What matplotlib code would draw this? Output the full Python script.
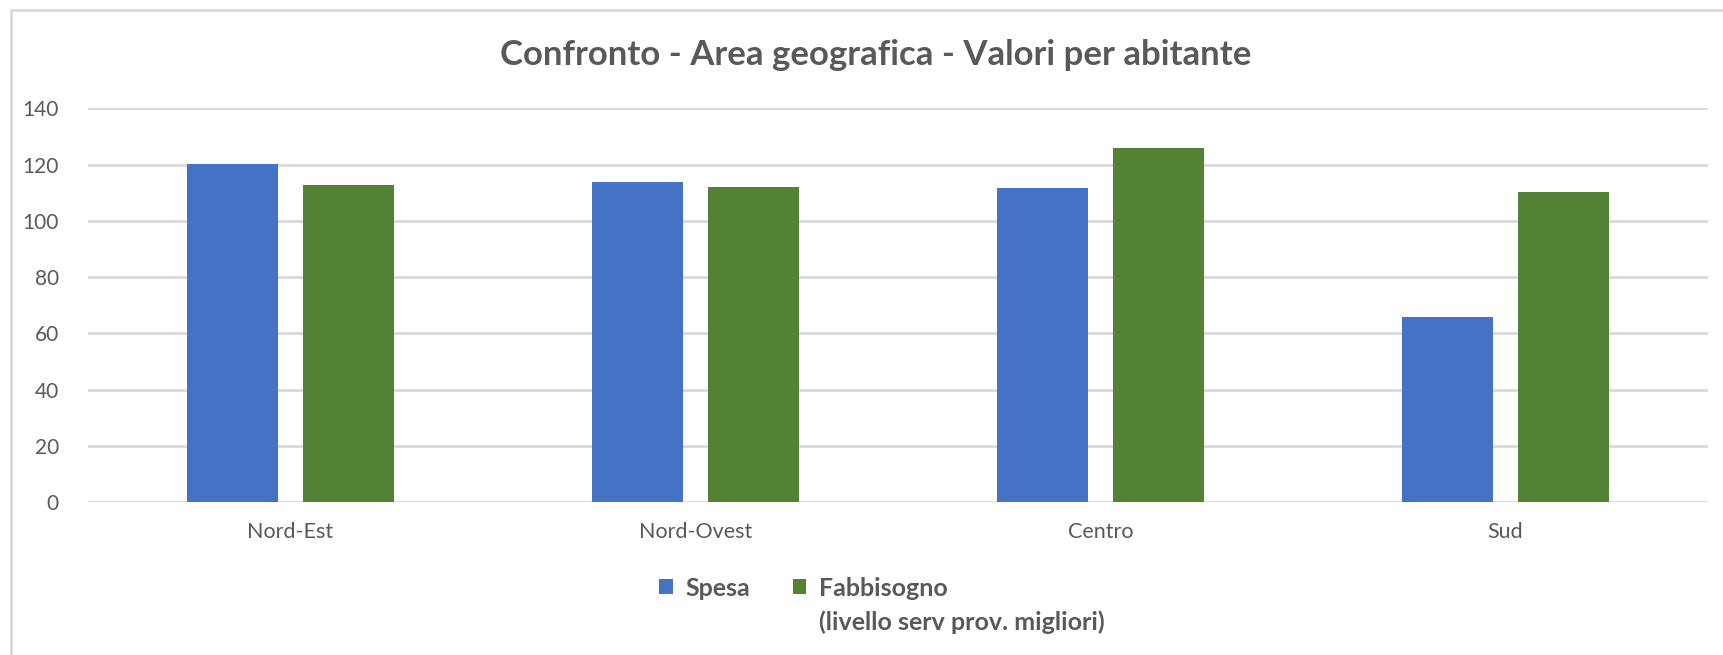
import matplotlib
matplotlib.use("Agg")
import matplotlib.pyplot as plt
from matplotlib.lines import Line2D
import numpy as np

categories = ["Nord-Est", "Nord-Ovest", "Centro", "Sud"]
spesa = [120.3, 113.9, 111.6, 66.0]
fabbisogno = [112.6, 112.2, 125.8, 110.3]
series_names = ["Spesa", "Fabbisogno"]
legend_note = "(livello serv prov. migliori)"
title = "Confronto - Area geografica - Valori per abitante"
yticks = [0, 20, 40, 60, 80, 100, 120, 140]

plt.rcParams['font.family'] = ['Lato', 'DejaVu Sans']
text_color = "#595959"
blue = "#4472C4"
green = "#548235"
grid_color = "#D9D9D9"

fig = plt.figure(figsize=(17.23, 6.55), dpi=100)
ax = fig.add_axes([88/1723, 1-502.3/655, 1620/1723, (502.3-108.3)/655])

x = np.arange(len(categories))
w = 0.225
off = 0.143
ax.bar(x - off, spesa, width=w, color=blue, label=series_names[0], zorder=3)
ax.bar(x + off, fabbisogno, width=w, color=green, label=series_names[1], zorder=3)

ax.set_xlim(-0.5, len(categories) - 0.5)
ax.set_ylim(0, 140)
ax.set_yticks(yticks)
ax.set_xticks(x)
ax.set_xticklabels(categories)
ax.yaxis.grid(True, color=grid_color, linewidth=2, zorder=0)
ax.set_axisbelow(True)
for s in ax.spines.values():
    s.set_visible(False)
ax.tick_params(axis='y', length=0, labelsize=15, labelcolor=text_color, pad=21)
ax.tick_params(axis='x', length=0, labelsize=15.5, labelcolor=text_color, pad=14)

fig.text(0.508, 0.916, title, ha='center', va='center', fontsize=25,
         fontweight='bold', color=text_color)

leg_y = 0.102
leg = fig.legend(loc='center left', bbox_to_anchor=(0.38, leg_y), ncol=2,
                 frameon=False, handlelength=0.55, handleheight=0.55,
                 handletextpad=0.5, columnspacing=1.7,
                 prop={'weight': 'bold', 'size': 18})
for t in leg.get_texts():
    t.set_color(text_color)

fig.canvas.draw()
# align first legend handle with its reference position (x ~ 659 px)
h0 = leg.legend_handles[0].get_window_extent()
dx = (659 - h0.x0) / fig.bbox.width
leg.set_bbox_to_anchor((0.38 + dx, leg_y), transform=fig.transFigure)
fig.canvas.draw()
bb = leg.get_texts()[1].get_window_extent()
x0 = bb.x0 / fig.bbox.width
fig.text(x0, 0.050, legend_note, ha='left', va='center', fontsize=18,
         fontweight='bold', color=text_color)

# chart border (left and top)
fig.add_artist(Line2D([11/1723, 11/1723], [0, 1-10/655], color=grid_color, lw=2))
fig.add_artist(Line2D([11/1723, 1], [1-10/655, 1-10/655], color=grid_color, lw=2))

fig.savefig("out.png", dpi=100)
